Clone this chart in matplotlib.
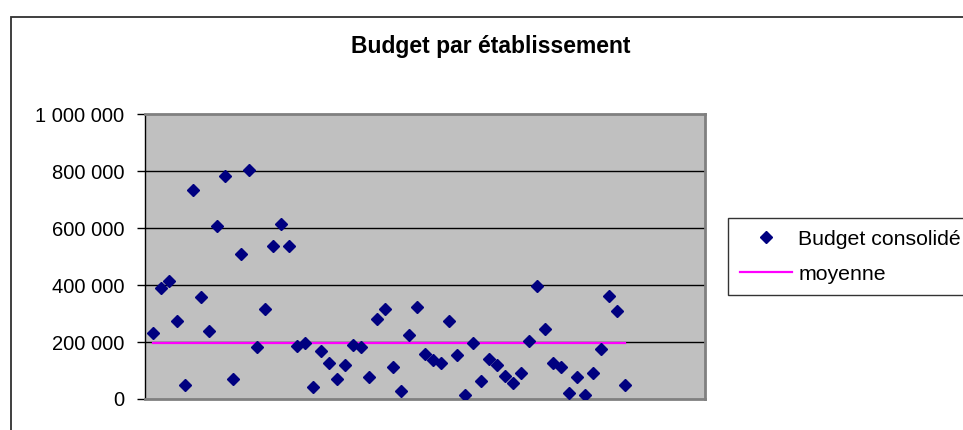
import matplotlib
matplotlib.use("Agg")
import matplotlib.pyplot as plt
from matplotlib.patches import Rectangle

plt.rcParams['font.family'] = ['Liberation Sans', 'DejaVu Sans']

# ---- data ----
etablissements = list(range(1, 61))
budget_consolide = [
    233000, 390000, 414000, 274000, 49000, 733000, 357000, 239000, 607000, 782000,
    70000, 510000, 803000, 181000, 315000, 538000, 614000, 538000, 187000, 198000,
    43000, 170000, 125000, 71000, 119000, 189000, 181000, 78000, 280000, 315000,
    113000, 29000, 225000, 322000, 158000, 137000, 125000, 274000, 154000, 14000,
    198000, 63000, 141000, 119000, 81000, 57000, 92000, 205000, 398000, 244000,
    128000, 111000, 22000, 78000, 14000, 90000, 175000, 363000, 308000, 49000,
]
moyenne_valeur = 195000
moyenne = [moyenne_valeur] * len(etablissements)
y_ticks = [0, 200000, 400000, 600000, 800000, 1000000]
y_tick_labels = ["0", "200 000", "400 000", "600 000", "800 000", "1 000 000"]
title = "Budget par établissement"
series_names = ["Budget consolidé", "moyenne"]

W, H = 963, 430
fig = plt.figure(figsize=(W / 100, H / 100), dpi=100)
fig.patch.set_facecolor("white")

def px(x0, y0, x1, y1):
    return [x0 / W, 1 - y1 / H, (x1 - x0) / W, (y1 - y0) / H]

# outer chart border
fig.patches.append(Rectangle((11 / W, -0.1), 1.2, (1 - 17 / H) + 0.1,
                             transform=fig.transFigure, fill=False,
                             edgecolor="#303030", lw=1.3, clip_on=False))

ax = fig.add_axes(px(145, 114, 705, 399))
ax.set_facecolor("#C0C0C0")
ax.set_xlim(0, 70)
ax.set_ylim(0, 1000000)

for v in y_ticks[1:-1]:
    ax.axhline(v, color="black", lw=1.0, zorder=1)

ax.plot(etablissements, budget_consolide, linestyle="none", marker="D",
        markersize=6.6, color="#000080", markeredgecolor="#000080",
        zorder=3, label=series_names[0])
ax.plot(etablissements, moyenne, color="#FF00FF", lw=1.6, zorder=2,
        label=series_names[1])

ax.set_yticks(y_ticks)
ax.set_yticklabels(y_tick_labels, fontsize=14.5)
ax.set_xticks([])
ax.tick_params(axis="y", direction="out", length=6, width=1, color="black", pad=9)

for side in ["top", "right", "bottom"]:
    ax.spines[side].set_color("#808080")
    ax.spines[side].set_linewidth(2)
ax.spines["left"].set_color("black")
ax.spines["left"].set_linewidth(1)

fig.text(491 / W, 1 - 46 / H, title, ha="center", va="center",
         fontsize=16.5, fontweight="bold")

leg = fig.legend(loc="upper left", bbox_to_anchor=(728 / W, 1 - 218 / H),
                 fontsize=15.3, frameon=True, fancybox=False, edgecolor="black",
                 handlelength=2.45, handletextpad=0.3, borderpad=0.55,
                 labelspacing=0.75, borderaxespad=0, handleheight=0.7)
leg.get_frame().set_linewidth(1)

fig.savefig("out.png", dpi=100)
